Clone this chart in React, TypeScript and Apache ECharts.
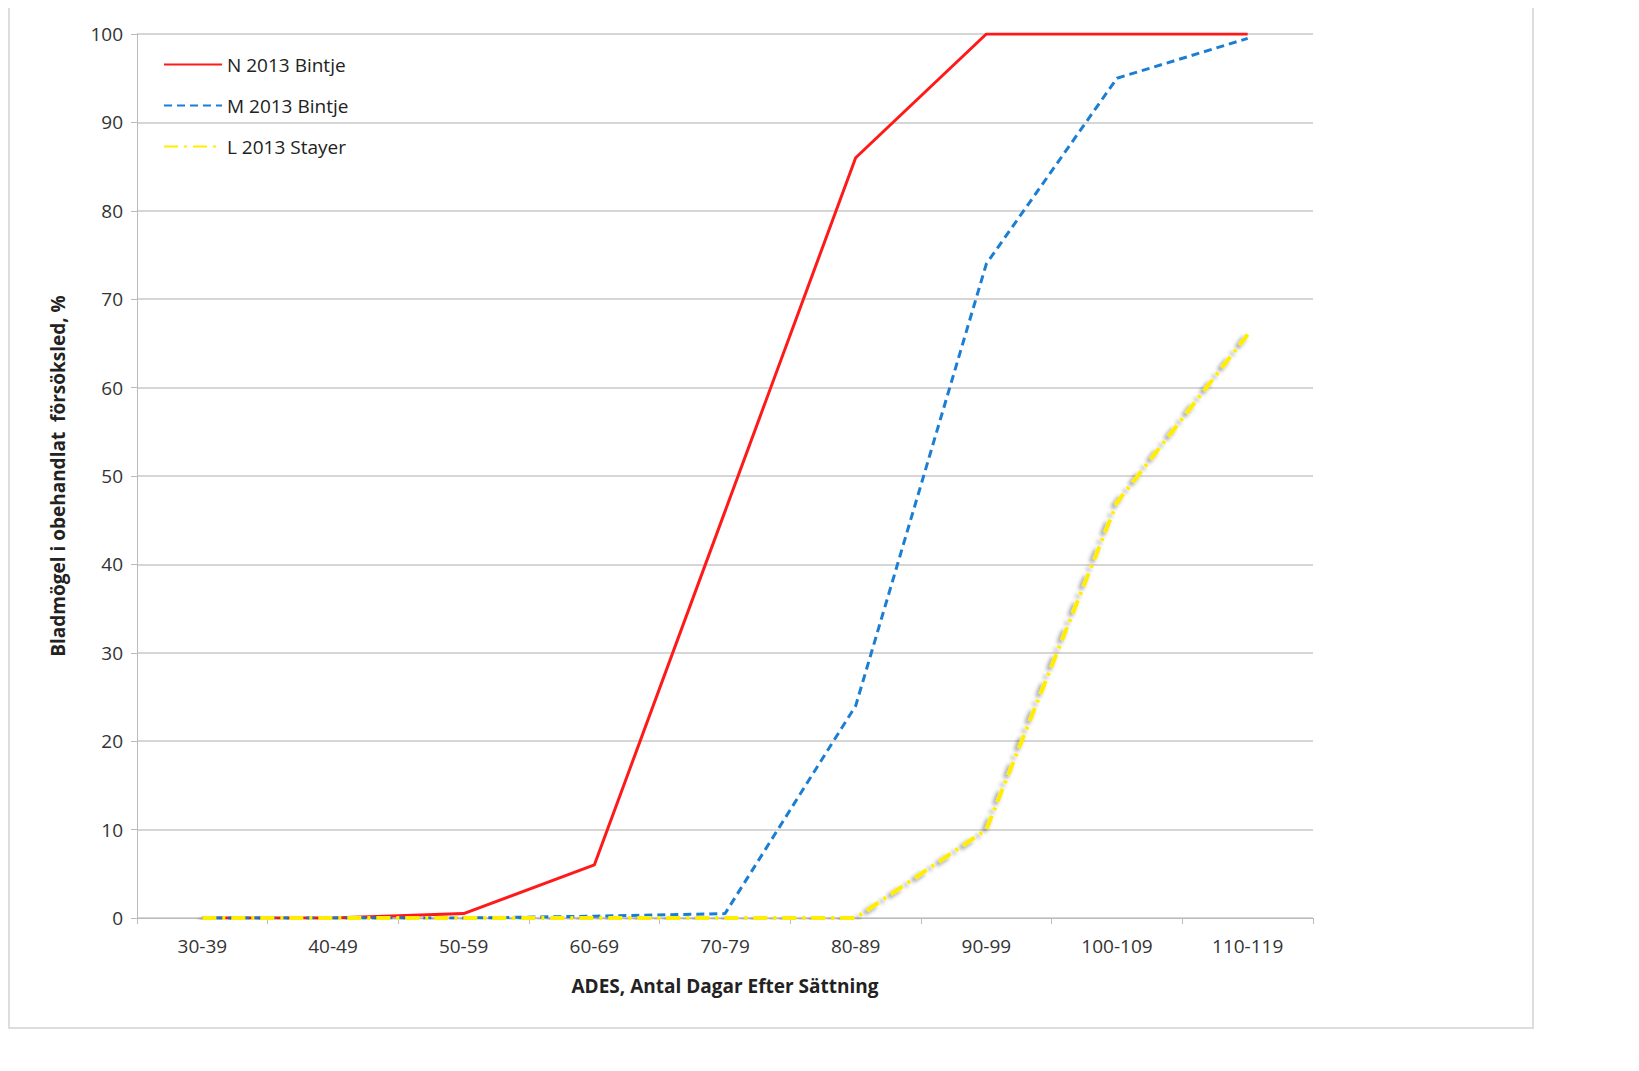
import React, { useEffect, useRef } from "react";
import * as echarts from "echarts";

const categories = ["30-39","40-49","50-59","60-69","70-79","80-89","90-99","100-109","110-119"];
const seriesN = [0, 0, 0.5, 6, 46, 86, 100, 100, 100];
const seriesM = [0, 0, 0, 0.2, 0.5, 24, 74, 95, 99.5];
const seriesL = [0, 0, 0, 0, 0, 0, 10, 47, 66];
const names = ["N 2013 Bintje", "M 2013 Bintje", "L 2013 Stayer"];

export default function App() {
  const ref = useRef<HTMLDivElement>(null);
  useEffect(() => {
    const chart = echarts.init(ref.current!, null, { renderer: "svg" });
    const font = "Open Sans";
    chart.setOption({
      animation: false,
      textStyle: { fontFamily: font },
      grid: { left: 129, right: 318, top: 26, bottom: 145, containLabel: false },
      legend: {
        left: 150, top: 42, orient: "vertical", itemGap: 22, itemWidth: 58, itemHeight: 14,
        itemStyle: { opacity: 0 },
        textStyle: { fontSize: 19, color: "#222", fontFamily: font },
        data: names,
      },
      xAxis: {
        type: "category", data: categories, boundaryGap: true,
        axisLine: { lineStyle: { color: "#bbb" } },
        axisTick: { show: true, length: 6, lineStyle: { color: "#bbb" } },
        axisLabel: { fontSize: 19, color: "#333", margin: 18 },
        name: "ADES, Antal Dagar Efter Sättning", nameLocation: "middle", nameGap: 58,
        nameTextStyle: { fontSize: 19, fontWeight: "bold", color: "#222" },
      },
      yAxis: {
        type: "value", min: 0, max: 100, interval: 10,
        axisLine: { show: true, lineStyle: { color: "#bbb" } },
        axisTick: { show: true, length: 6, lineStyle: { color: "#bbb" } },
        axisLabel: { fontSize: 19, color: "#333", margin: 14 },
        splitLine: { lineStyle: { color: "#c8c8c8", width: 1.5 } },
        name: "Bladmögel i obehandlat  försöksled, %", nameLocation: "middle", nameGap: 70,
        nameTextStyle: { fontSize: 19, fontWeight: "bold", color: "#222" },
      },
      series: [
        { name: names[0], type: "line", data: seriesN, symbol: "none", lineStyle: { color: "#ff1a1a", width: 3 }, itemStyle: { color: "#ff1a1a" } },
        { name: names[1], type: "line", data: seriesM, symbol: "none", lineStyle: { color: "#1a7fd4", width: 3, type: [8, 5] }, itemStyle: { color: "#1a7fd4" } },
        { name: names[2], type: "line", data: seriesL, symbol: "none", lineStyle: { color: "#ffee00", width: 4, type: [14, 6, 3, 6], shadowColor: "rgba(0,0,0,0.45)", shadowBlur: 4, shadowOffsetX: -3, shadowOffsetY: 3 }, itemStyle: { color: "#ffee00" } },
      ],
    });
    return () => chart.dispose();
  }, []);
  return (
    <div style={{ width: 1623, height: 1055, position: "relative" }}>
      <div style={{ position: "absolute", left: 0, top: -3, width: 1522, height: 1020, border: "2px solid #ddd" }} />
      <div ref={ref} style={{ position: "absolute", left: 0, top: 0, width: 1623, height: 1055 }} />
    </div>
  );
}
